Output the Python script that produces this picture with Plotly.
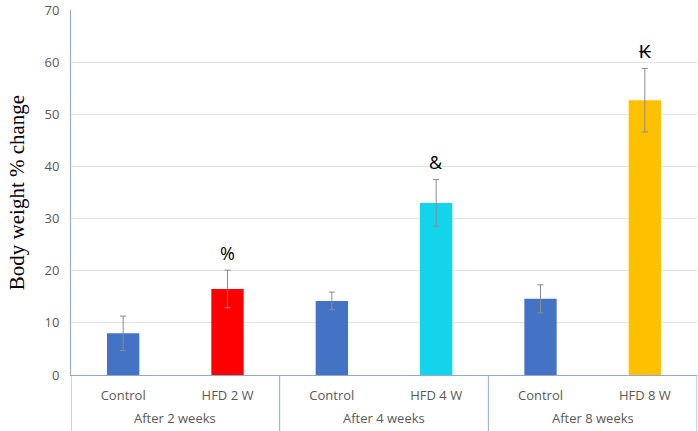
import plotly.graph_objects as go

groups = ["After 2 weeks", "After 4 weeks", "After 8 weeks"]
categories = ["Control", "HFD 2 W", "Control", "HFD 4 W", "Control", "HFD 8 W"]
values = [8.0, 16.5, 14.2, 33.0, 14.6, 52.7]
errors = [3.3, 3.6, 1.7, 4.5, 2.7, 6.1]
colors = ["#4472C4", "#FF0000", "#4472C4", "#14D4EB", "#4472C4", "#FFC000"]
marks = ["", "%", "", "&", "", "₭"]

xpos = list(range(len(categories)))
axis_col = "#8EA9CF"

fig = go.Figure()
fig.add_trace(go.Bar(
    x=xpos, y=values,
    marker=dict(color=colors, line=dict(width=0)),
    width=0.31,
    error_y=dict(type="data", array=errors, color="#8C8C8C", thickness=1, width=3),
))

# significance marks above error bars
for xi, v, e, m in zip(xpos, values, errors, marks):
    if m:
        fig.add_annotation(x=xi, y=v + e, xref="x", yref="y", text=m, showarrow=False,
                           yanchor="bottom", yshift=3,
                           font=dict(family="Open Sans, Arial", size=18, color="#000000"))

# group labels
for gi, g in enumerate(groups):
    fig.add_annotation(x=2 * gi + 0.5, y=-0.117, xref="x", yref="paper", text=g, showarrow=False,
                       yanchor="middle", font=dict(family="Open Sans, Arial", size=13, color="#595959"))

# group dividers
for xd in [-0.5, 1.5, 3.5, 5.5]:
    fig.add_shape(type="line", x0=xd, x1=xd, y0=0, y1=-0.17, xref="x", yref="paper",
                  line=dict(color=axis_col, width=1))

fig.update_layout(
    width=698, height=431,
    margin=dict(l=71, r=1, t=10, b=56),
    paper_bgcolor="white", plot_bgcolor="white",
    showlegend=False,
    font=dict(family="Open Sans, Arial", color="#595959", size=12),
    xaxis=dict(
        range=[-0.5, 5.5],
        tickvals=xpos, ticktext=categories,
        showline=True, linecolor=axis_col, linewidth=1,
        tickfont=dict(size=13, color="#595959"),
        ticks="", ticklen=0, showgrid=False, zeroline=False,
        ticklabelstandoff=8, automargin=False,
    ),
    yaxis=dict(
        range=[0, 70], dtick=10,
        showgrid=True, gridcolor="#E3E3E3", gridwidth=1,
        showline=True, linecolor=axis_col, linewidth=1,
        zeroline=False, automargin=False,
        tickfont=dict(size=13, color="#595959"),
        ticks="", ticklen=0, ticklabelstandoff=8, ticklabeloverflow="allow",
        title=dict(text="Body weight % change", font=dict(family="Liberation Serif, Times New Roman", size=21, color="#000000"), standoff=14),
    ),
)

fig.write_html("out.html")
